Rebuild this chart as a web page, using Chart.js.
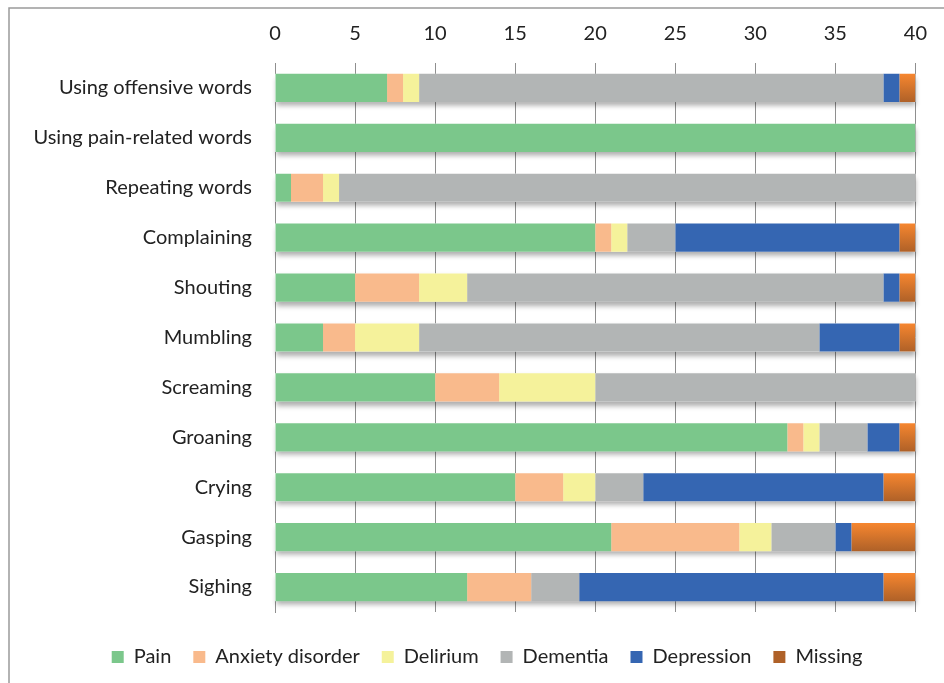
<!DOCTYPE html>
<html>
<head>
<meta charset="utf-8">
<script src="https://cdn.jsdelivr.net/npm/chart.js@4/dist/chart.umd.min.js"></script>
<style>
html,body{margin:0;padding:0;background:#fff;}
#wrap{width:944px;height:683px;position:relative;}
</style>
</head>
<body>
<div id="wrap"><canvas id="c" width="944" height="683"></canvas></div>
<script>
const categories = ["Using offensive words","Using pain-related words","Repeating words","Complaining","Shouting","Mumbling","Screaming","Groaning","Crying","Gasping","Sighing"];
const pain       = [7, 40, 1, 20, 5, 3, 10, 32, 15, 21, 12];
const anxiety    = [1, 0, 2, 1, 4, 2, 4, 1, 3, 8, 4];
const delirium   = [1, 0, 1, 1, 3, 4, 6, 1, 2, 2, 0];
const dementia   = [29, 0, 36, 3, 26, 25, 20, 3, 3, 4, 3];
const depression = [1, 0, 0, 14, 1, 5, 0, 2, 15, 1, 19];
const missing    = [1, 0, 0, 1, 1, 1, 0, 1, 2, 4, 2];
const seriesNames = ["Pain","Anxiety disorder","Delirium","Dementia","Depression","Missing"];
const xTicks = [0,5,10,15,20,25,30,35,40];

const FONT = "Lato, 'Open Sans', sans-serif";

function missingColor(ctx){
  const chart = ctx.chart;
  if (ctx.type !== 'data' || !chart.chartArea || !chart.scales.y) return '#E07B2E';
  const ys = chart.scales.y;
  const c = ys.getPixelForValue(ctx.dataIndex);
  if (!isFinite(c)) return '#E07B2E';
  const h = 14;
  const g = chart.ctx.createLinearGradient(0, c - h, 0, c + h);
  g.addColorStop(0, '#F6862F');
  g.addColorStop(1, '#AF6128');
  return g;
}

const colors = ['#7BC78B', '#F9BA8C', '#F5F29B', '#B2B5B5', '#3566B2', missingColor];
const allData = [pain, anxiety, delirium, dementia, depression, missing];

const shadowPlugin = {
  id: 'barShadow',
  beforeDatasetsDraw(chart){
    const ctx = chart.ctx;
    const xs = chart.scales.x;
    const meta = chart.getDatasetMeta(0);
    ctx.save();
    ctx.shadowColor = 'rgba(0,0,0,0.32)';
    ctx.shadowBlur = 5;
    ctx.shadowOffsetY = 4;
    ctx.shadowOffsetX = 1;
    ctx.fillStyle = '#ffffff';
    categories.forEach((c, i) => {
      const total = allData.reduce((s, arr) => s + arr[i], 0);
      const el = meta.data[i];
      const x0 = xs.getPixelForValue(0);
      const x1 = xs.getPixelForValue(total);
      ctx.fillRect(x0, el.y - el.height/2, x1 - x0, el.height);
    });
    ctx.restore();
  }
};

const frameAndLegendPlugin = {
  id: 'frame',
  afterLayout(chart){
    if (chart.legend) { chart.legend.left += 27; chart.legend.right += 27; }
  },
  afterDraw(chart){
    const ctx = chart.ctx;
    ctx.save();
    ctx.strokeStyle = '#9a9a9a';
    ctx.lineWidth = 1.5;
    ctx.strokeRect(9, 8, 1000, 1000);
    ctx.restore();
  }
};

new Chart(document.getElementById('c'), {
  type: 'bar',
  data: {
    labels: categories,
    datasets: seriesNames.map((n, i) => ({
      label: n,
      data: allData[i],
      backgroundColor: colors[i],
      borderWidth: 0,
      barPercentage: 0.565,
      categoryPercentage: 1.0
    }))
  },
  options: {
    indexAxis: 'y',
    responsive: false,
    animation: false,
    devicePixelRatio: 1,
    layout: { padding: { top: 8, left: 0, right: 24, bottom: 6 } },
    plugins: {
      legend: {
        position: 'bottom',
        labels: {
          font: { family: FONT, size: 20 },
          color: '#222',
          boxWidth: 12,
          boxHeight: 12,
          padding: 22
        }
      },
      tooltip: { enabled: false }
    },
    scales: {
      x: {
        position: 'top',
        stacked: true,
        min: 0,
        max: 40,
        afterBuildTicks(s){ s.ticks = xTicks.map(v => ({ value: v })); },
        afterFit(s){ s.height = 55; },
        ticks: { font: { family: FONT, size: 20 }, color: '#222', padding: 17 },
        grid: { color: '#8f8f8f', lineWidth: 1, drawTicks: false },
        border: { display: false }
      },
      x2: {
        type: 'linear',
        position: 'bottom',
        display: true,
        grid: { display: false },
        ticks: { display: false },
        border: { display: false },
        afterFit(s){ s.height = 13; }
      },
      y: {
        stacked: true,
        afterFit(s){ s.width = 275; },
        ticks: { font: { family: FONT, size: 20 }, color: '#222', padding: 15 },
        grid: { display: false },
        border: { display: true, color: '#8f8f8f' }
      }
    }
  },
  plugins: [shadowPlugin, frameAndLegendPlugin]
});
</script>
</body>
</html>
